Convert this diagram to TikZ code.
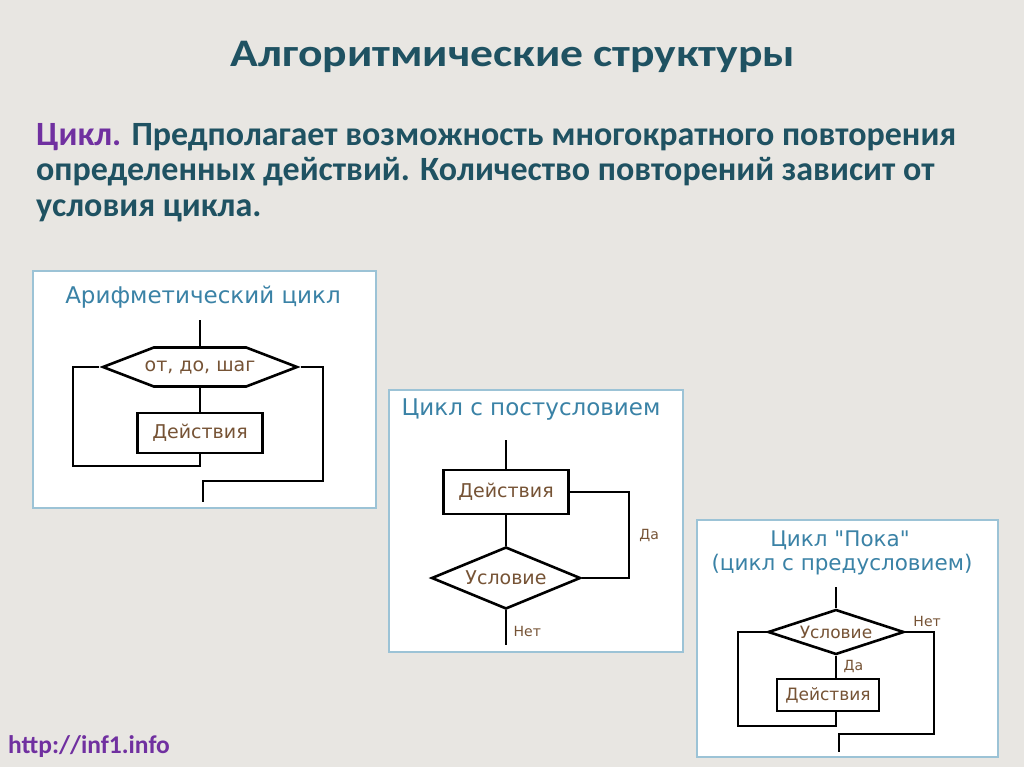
\documentclass[tikz,border=0pt]{standalone}
\usepackage{fontspec}
\setmainfont{Carlito}
\newfontfamily\headfont[FakeStretch=1.17]{Carlito}
\newfontfamily\diagfont{DejaVu Sans}
\usetikzlibrary{shapes.geometric,shapes.symbols}

\definecolor{bgcol}{HTML}{E8E6E2}
\definecolor{headcol}{HTML}{1F5262}
\definecolor{violet}{HTML}{7030A0}
\definecolor{framecol}{HTML}{9CC3D6}
\definecolor{capcol}{HTML}{3A82A6}
\definecolor{inkcol}{HTML}{765335}

\begin{document}
\begin{tikzpicture}[x=1pt, y=-1pt,
  line/.style = {draw, line width=2.6pt},
  panel/.style = {draw=framecol, fill=white, line width=1.4pt},
  act/.style = {line, rectangle, font=\diagfont\fontsize{19}{22}\selectfont, text=inkcol, inner sep=0},
  cond/.style = {line, diamond, font=\diagfont\fontsize{19}{22}\selectfont, text=inkcol, inner sep=0},
  hexa/.style = {line, signal, signal to=east and west, signal pointer angle=42, inner sep=0},
  hextext/.style = {font=\diagfont\fontsize{19}{22}\selectfont, text=inkcol, inner sep=0},
  captext/.style = {font=\diagfont\fontsize{23}{27}\selectfont, text=capcol},
  lbl/.style = {font=\diagfont\fontsize{14}{16}\selectfont, text=inkcol}]
\useasboundingbox[fill=bgcol] (0,0) rectangle (1024,767);

% heading and text
\node[font=\headfont\bfseries\fontsize{39}{45}\selectfont, text=headcol] (head) at (513,57) {Алгоритмические структуры};
\node[anchor=north west, inner sep=0, align=left, font=\bfseries\fontsize{34}{35.5}\selectfont, text=headcol] (intro) at (36,123)
  {\textcolor{violet}{Цикл.} Предполагает возможность многократного повторения\\
   определенных действий. Количество повторений зависит от\\
   условия цикла.};
\node[anchor=west, inner sep=0, font=\bfseries\fontsize{25.5}{30}\selectfont, text=violet] (site) at (8,747) {http://inf1.info};

% panels
\draw[panel] (33,271) rectangle (376,508);
\draw[panel] (389,390) rectangle (683,652);
\draw[panel] (697,520) rectangle (998,757);

% arithmetic loop
\node[captext] (cap1) at (203,297) {Арифметический цикл};
\coordinate (in1) at (200,320);
\node[hexa, minimum width=194, minimum height=39] (cyc1) at (200,367) {};
\node[hextext] (cyc1txt) at (cyc1) {от, до, шаг};
\node[act, minimum width=125, minimum height=40] (act1) at (200,433) {Действия};
\coordinate (out1) at (203,502);
\draw[line] (in1) -- (cyc1.north);
\draw[line] (cyc1.south) -- (act1.north);
\draw[line] (act1.south) |- (73,466) |- (cyc1.west);
\draw[line] (cyc1.east) -| (323,481) -| (out1);

% post-condition loop
\node[captext] (cap2) at (531,410) {Цикл с постусловием};
\coordinate (in2) at (506,440);
\node[act, minimum width=125, minimum height=44] (act2) at (506,492) {Действия};
\node[cond, aspect=2.4, minimum width=149, minimum height=62] (cond2) at (506,578) {Условие};
\coordinate (out2) at (506,645);
\draw[line] (in2) -- (act2.north);
\draw[line] (act2.south) -- (cond2.north);
\draw[line] (cond2.east) -- ++(47,0) |- node[lbl, pos=0.25, right=6pt] {Да} (act2.east);
\draw[line] (cond2.south) -- node[lbl, pos=0.6, right=3pt] {Нет} (out2);

% pre-condition loop
\node[captext, font=\diagfont\fontsize{21.5}{25}\selectfont] (cap3) at (840,540) {Цикл "Пока"};
\node[captext, font=\diagfont\fontsize{21.5}{25}\selectfont] (cap3b) at (842,565) {(цикл с предусловием)};
\coordinate (in3) at (836,587);
\node[cond, aspect=3, minimum width=136, minimum height=45, font=\diagfont\fontsize{17}{20}\selectfont] (cond3) at (836,632) {Условие};
\node[act, minimum width=102, minimum height=32, font=\diagfont\fontsize{17}{20}\selectfont] (act3) at (828,695) {Действия};
\coordinate (out3) at (839,752);
\draw[line] (in3) -- (cond3.north);
\draw[line] (cond3.south) -- node[lbl, right=3pt] {Да} (cond3.south |- act3.north);
\draw[line] (cond3.south |- act3.south) |- (738,726) |- (cond3.west);
\draw[line] (cond3.east) -| node[lbl, pos=0.38, above=1pt] {Нет} (934,734) -| (out3);
\end{tikzpicture}
\end{document}
